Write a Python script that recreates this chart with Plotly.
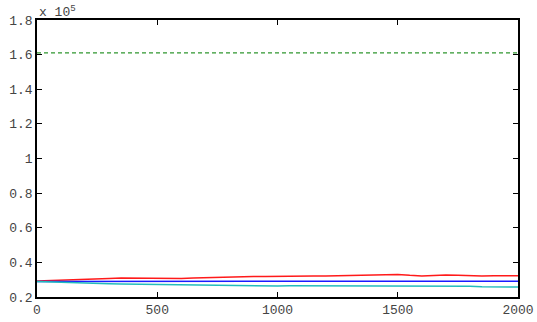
import plotly.graph_objects as go

steps = list(range(0, 2001, 50))
red_vals = [0.292, 0.294, 0.296, 0.297, 0.300, 0.303, 0.307, 0.310, 0.309, 0.308,
            0.310, 0.306, 0.307, 0.310, 0.312, 0.314, 0.318, 0.317, 0.318, 0.318,
            0.320, 0.321, 0.320, 0.322, 0.321, 0.322, 0.325, 0.324, 0.324, 0.326,
            0.330, 0.325, 0.322, 0.324, 0.327, 0.325, 0.322, 0.321, 0.323, 0.324, 0.323]
blue_vals = [0.290, 0.290, 0.290, 0.291, 0.291, 0.291, 0.291, 0.291, 0.291, 0.291,
             0.291, 0.291, 0.291, 0.291, 0.291, 0.291, 0.291, 0.291, 0.291, 0.291,
             0.291, 0.291, 0.291, 0.291, 0.291, 0.291, 0.291, 0.291, 0.291, 0.291,
             0.291, 0.291, 0.291, 0.291, 0.291, 0.291, 0.291, 0.291, 0.291, 0.291, 0.291]
cyan_vals = [0.290, 0.287, 0.284, 0.281, 0.278, 0.277, 0.276, 0.275, 0.274, 0.273,
             0.271, 0.272, 0.271, 0.270, 0.268, 0.267, 0.265, 0.266, 0.265, 0.264,
             0.264, 0.265, 0.265, 0.264, 0.262, 0.261, 0.262, 0.263, 0.264, 0.265,
             0.265, 0.263, 0.262, 0.263, 0.261, 0.263, 0.262, 0.259, 0.258, 0.259, 0.258]
bound_val = 1.61

x_ticks = [0, 500, 1000, 1500, 2000]
y_ticks = [0.2, 0.4, 0.6, 0.8, 1.0, 1.2, 1.4, 1.6, 1.8]
y_labels = ["0.2", "0.4", "0.6", "0.8", "1", "1.2", "1.4", "1.6", "1.8"]

FONT = dict(family="Liberation Mono", size=13, color="#444444")

fig = go.Figure()
fig.add_trace(go.Scatter(x=[steps[0], steps[-1]], y=[bound_val, bound_val], mode="lines",
                         line=dict(color="#2f962f", width=1.3, dash="4px,3px")))
fig.add_trace(go.Scatter(x=steps, y=red_vals, mode="lines", line=dict(color="#ff1a1a", width=1.5)))
fig.add_trace(go.Scatter(x=steps, y=blue_vals, mode="lines", line=dict(color="#1a1aff", width=1.5)))
fig.add_trace(go.Scatter(x=steps, y=cyan_vals, mode="lines", line=dict(color="#22bcbc", width=1.5)))

axis_common = dict(showgrid=False, zeroline=False, showline=True, linecolor="black", linewidth=1.5,
                   mirror="allticks", ticks="inside", ticklen=5, tickcolor="black",
                   automargin=False, tickfont=FONT)

fig.update_layout(
    width=537, height=322, showlegend=False,
    margin=dict(l=37, r=19, t=20, b=25),
    plot_bgcolor="white", paper_bgcolor="white",
    xaxis=dict(range=[0, 2000], tickvals=x_ticks, **axis_common),
    yaxis=dict(range=[0.2, 1.8], tickvals=y_ticks, ticktext=y_labels, **axis_common),
    annotations=[dict(text="x 10<sup>5</sup>", xref="paper", yref="paper", x=0, y=1,
                      xanchor="left", yanchor="bottom", showarrow=False, yshift=-2,
                      font=FONT)],
)
fig.write_html("out.html", config={"displayModeBar": False},
               post_script="document.body.style.margin='0';")
